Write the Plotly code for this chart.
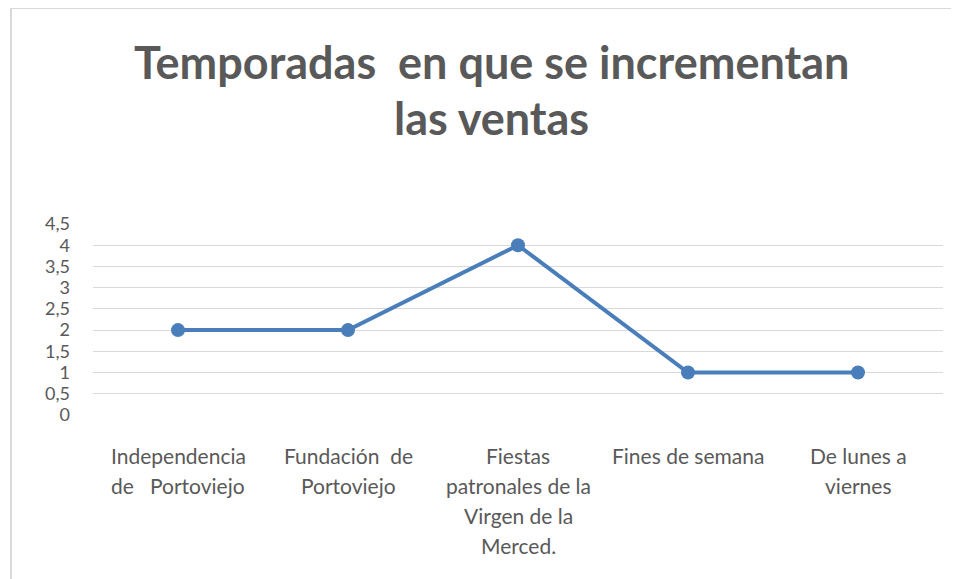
import plotly.graph_objects as go

categories = ["Independencia<br>de   Portoviejo", "Fundación  de<br>Portoviejo",
              "Fiestas<br>patronales de la<br>Virgen de la<br>Merced.",
              "Fines de semana", "De lunes a<br>viernes"]
values = [2, 2, 4, 1, 1]
tick_vals = [0, 0.5, 1, 1.5, 2, 2.5, 3, 3.5, 4, 4.5]
tick_text = ["0", "0,5", "1", "1,5", "2", "2,5", "3", "3,5", "4", "4,5"]
title_lines = ["Temporadas  en que se incrementan", "las ventas"]

OFF = 8  # page body margin
W, H = 959, 579
L, T = 93 - OFF, 224 - OFF
R = 16 + OFF
ph = 415 - 224
B = H - T - ph
pw = W - L - R

def px(x):
    return (x - OFF - L) / pw

def py(y):
    return (T + ph - (y - OFF)) / ph

xs = list(range(len(categories)))
fig = go.Figure()
fig.add_trace(go.Scatter(
    x=xs, y=values, mode="lines+markers",
    line=dict(color="#4A7EBB", width=4),
    marker=dict(color="#4A7EBB", size=14),
    hoverinfo="skip", showlegend=False,
))

annotations = []
for i, lbl in enumerate(categories):
    for j, line in enumerate(lbl.split("<br>")):
        annotations.append(dict(
            x=xs[i], xref="x", y=0, yref="paper", yanchor="middle", xanchor="center",
            yshift=-40 - 30 * j, text=line, showarrow=False,
            font=dict(family="Lato", size=21, color="#595959"),
        ))
for j, line in enumerate(title_lines):
    annotations.append(dict(
        x=px(491), xref="paper", y=py([62, 118][j]), yref="paper",
        xanchor="center", yanchor="middle", text=line, showarrow=False,
        font=dict(family="Lato", size=45, color="#595959", weight="bold"),
    ))

fig.update_layout(
    width=W, height=H,
    margin=dict(l=L, r=R, t=T, b=B),
    paper_bgcolor="white", plot_bgcolor="white",
    xaxis=dict(range=[-0.5, len(categories) - 0.5], showticklabels=False,
               showgrid=False, zeroline=False, showline=False, ticks=""),
    yaxis=dict(range=[0, 4.5], tickvals=tick_vals, ticktext=tick_text,
               showgrid=True, gridcolor="#D9D9D9", gridwidth=1,
               zeroline=False, showline=False, ticks="",
               ticklabelstandoff=22,
               tickfont=dict(family="Lato", size=18, color="#595959")),
    annotations=annotations,
    shapes=[dict(type="rect", xref="paper", yref="paper",
                 x0=px(11), x1=px(958), y0=py(579 + 10), y1=py(8),
                 line=dict(color="#D9D9D9", width=2), fillcolor="rgba(0,0,0,0)",
                 layer="below")],
)

fig.write_html("out.html")
